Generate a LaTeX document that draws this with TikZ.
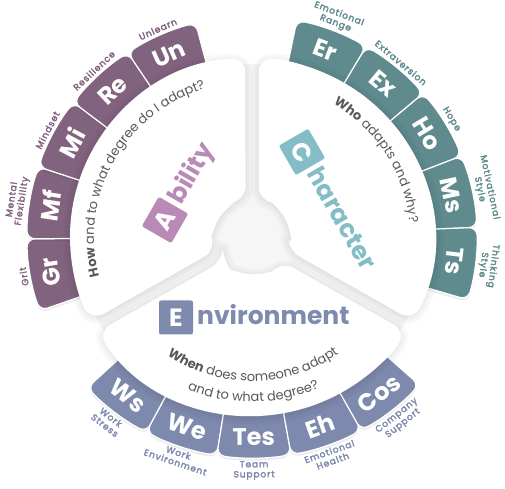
\documentclass[tikz,border=0pt]{standalone}
\usepackage{fontspec}
\setmainfont{Poppins}
\newfontfamily\labelfont{Poppins}[LetterSpace=10, FakeBold=3]
\usetikzlibrary{decorations.text}

\definecolor{abilitydark}{HTML}{82637F}
\definecolor{abilitylight}{HTML}{B98AB5}
\definecolor{characterdark}{HTML}{5F8B8E}
\definecolor{characterlight}{HTML}{84BDC5}
\definecolor{envdark}{HTML}{7D8AAE}
\definecolor{envlight}{HTML}{7F8BAE}
\definecolor{questiongray}{HTML}{585858}

\tikzset{
  tile/.style={draw=white, line width=1.2pt, rounded corners=8pt},
  tileshadow/.style={fill=black, fill opacity=0.07, rounded corners=8pt, yshift=-2.5pt},
  tiletext/.style={text=white, font=\fontsize{24}{24}\selectfont\bfseries, inner sep=0pt},
  outlabel/.style={font=\labelfont\fontsize{9}{10}\selectfont, align=center, inner sep=0pt},
  sector/.style={fill=white, rounded corners=14pt},
  sectorshadow/.style={draw=black, draw opacity=0.025, rounded corners=14pt, line join=round, yshift=-1.5pt},
  titlebox/.style={minimum size=34pt, inner sep=0pt, rounded corners=2pt, text=white, font=\fontsize{25}{25}\selectfont\bfseries},
  titletext/.style={font=\fontsize{25}{25}\selectfont\bfseries, inner sep=0pt, anchor=base west},
}

\begin{document}
\begin{tikzpicture}[x=1pt, y=0.982pt]

    % Radii of the rings
    \def\Rh{38}   % hub
    \def\Rs{182}  % white sectors
    \def\Rt{225}  % outer edge of the tiles
    \def\Rl{228}  % outer labels

    % Centre of the wheel
    \coordinate (O) at (0,0);

    \useasboundingbox (-252,-256.6) rectangle (253,241.3);

    % Tile: angle, abbreviation, label, colour, text turn, label anchor
    \def\tile#1#2#3#4#5#6{%
      \path[tileshadow] (#1-9.5:150) -- (#1-9.5:\Rt) arc[start angle=#1-9.5, end angle=#1+9.5, radius=\Rt] -- (#1+9.5:150) -- cycle;
      \path[tile, fill=#4] (#1-9.5:150) -- (#1-9.5:\Rt) arc[start angle=#1-9.5, end angle=#1+9.5, radius=\Rt] -- (#1+9.5:150) -- cycle;
      \node[tiletext, rotate=#1#5] (#2) at (#1:204) {#2};
      \node[outlabel, text=#4, rotate=#1#5, anchor=#6] (#2-label) at (#1:\Rl) {#3};
    }

    % Sector outline between two gap directions
    \def\sectorpath#1#2{(#1+9.85:\Rh) -- (#1+2.05:\Rs) arc[start angle=#1+2.05, end angle=#2-2.05, radius=\Rs] -- (#2-9.85:\Rh) arc[start angle=#2-9.85, end angle=#1+9.85, radius=\Rh] -- cycle}
    \def\sector#1#2{%
      \path[sectorshadow, line width=14pt] \sectorpath{#1}{#2};
      \path[sectorshadow, line width=8pt] \sectorpath{#1}{#2};
      \path[sectorshadow, line width=3pt] \sectorpath{#1}{#2};
      \path[sector] \sectorpath{#1}{#2};
    }

    % Grey showing through the gaps and the hub
    \fill[gray!7] (O) circle (176);

    % Ability tiles
    \tile{190}{Gr}{Grit}{abilitydark}{-90}{south}
    \tile{171}{Mf}{Mental\\Flexibility}{abilitydark}{-90}{south}
    \tile{152}{Mi}{Mindset}{abilitydark}{-90}{south}
    \tile{133}{Re}{Resilience}{abilitydark}{-90}{south}
    \tile{114}{Un}{Unlearn}{abilitydark}{-90}{south}

    % Character tiles
    \tile{69}{Er}{Emotional\\Range}{characterdark}{-90}{south}
    \tile{50}{Ex}{Extraversion}{characterdark}{-90}{south}
    \tile{31}{Ho}{Hope}{characterdark}{-90}{south}
    \tile{12}{Ms}{Motivational\\Style}{characterdark}{-90}{south}
    \tile{-7}{Ts}{Thinking\\Style}{characterdark}{-90}{south}

    % Environment tiles
    \tile{232.5}{Ws}{Work\\Stress}{envdark}{+90}{north}
    \tile{251.5}{We}{Work\\Environment}{envdark}{+90}{north}
    \tile{270.5}{Tes}{Team\\Support}{envdark}{+90}{north}
    \tile{289.5}{Eh}{Emotional\\Health}{envdark}{+90}{north}
    \tile{308.5}{Cos}{Company\\Support}{envdark}{+90}{north}

    % The three white sectors
    \sector{90}{210}
    \sector{-30}{90}
    \sector{210}{330}

    % Ability title
    \begin{scope}[shift={(-87,17.3)}, rotate=60, transform shape]
      \node[titlebox, fill=abilitylight] (Abox) at (0,0) {A};
      \node[titletext, text=abilitylight] (Atext) at (21,-7.3) {bility};
    \end{scope}

    % Character title
    \begin{scope}[shift={(50,86.6)}, rotate=-60, transform shape]
      \node[titlebox, fill=characterlight] (Cbox) at (0,0) {C};
      \node[titletext, text=characterlight] (Ctext) at (21,-7.3) {haracter};
    \end{scope}

    % Environment title
    \node[titlebox, fill=envlight] (Ebox) at (-76,-82) {E};
    \node[titletext, text=envlight] (Etext) at (-55,-89.5) {nvironment};

    % Questions along the arcs
    \begin{scope}
      \fontsize{13}{15}\selectfont
      \path[decorate, decoration={text along path, text align=center, text color=questiongray,
        text={|\bfseries|How|| and to what degree do I adapt?}}]
        (211:158) arc[start angle=211, end angle=91, radius=158];
      \path[decorate, decoration={text along path, text align=center, text color=questiongray,
        text={|\bfseries|Who|| adapts and why?}}]
        (77:158) arc[start angle=77, end angle=-13, radius=158];
      \path[decorate, decoration={text along path, text align=center, text color=questiongray,
        text={|\bfseries|When|| does someone adapt}}]
        (220:147) arc[start angle=220, end angle=321, radius=147];
      \path[decorate, decoration={text along path, text align=center, text color=questiongray,
        text={and to what degree?}}]
        (230:168) arc[start angle=230, end angle=311, radius=168];
    \end{scope}

\end{tikzpicture}
\end{document}
